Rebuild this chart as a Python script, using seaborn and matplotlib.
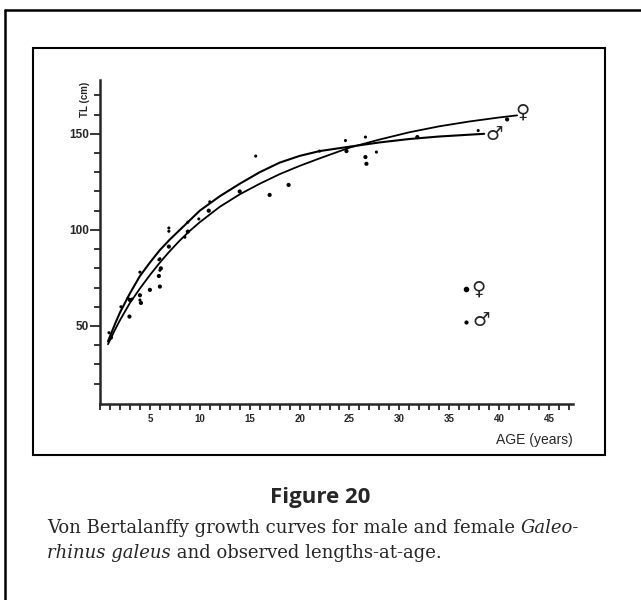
import numpy as np
import pandas as pd
import matplotlib
matplotlib.use("Agg")
import matplotlib.pyplot as plt
import seaborn as sns
from matplotlib.lines import Line2D
from matplotlib.ticker import MultipleLocator, FixedLocator

# fitted growth curves
male_age = [0.8, 1.5, 2, 3, 4, 5, 6, 7, 8, 9, 10, 12, 14, 16, 18, 20, 22, 25, 28, 31, 34, 38.5]
male_tl = [42, 51, 57, 67, 76, 83, 89.5, 95, 100, 105, 110, 117.5, 124, 130, 135, 138.5,
           141, 143.3, 145.5, 147.3, 148.6, 150]
female_age = [0.8, 1.5, 2, 3, 4, 5, 6, 7, 8, 9, 10, 12, 14, 16, 18, 20, 22, 25, 28, 31,
              34, 37, 40, 41.8]
female_tl = [40.5, 48, 53, 62, 69.5, 76.5, 83, 89, 94.5, 99.5, 104, 112, 118.5, 124, 129,
             133.3, 137.2, 142.8, 147, 150.8, 153.9, 156.4, 158.5, 159.6]

# observed lengths-at-age
obs_f_age = [1.1, 3.0, 2.95, 4.0, 4.1, 5.0, 6.1, 5.9, 6.0, 6.9, 8.8, 10.9, 14.0, 17.0,
             18.9, 24.7, 26.6, 26.7, 31.8, 40.8]
obs_f_tl = [44.0, 63.5, 54.9, 66.0, 62.0, 68.8, 80.0, 76.0, 70.5, 91.3, 99.1, 110.0, 120.0,
            118.2, 123.4, 141.0, 137.9, 134.4, 148.3, 157.5]
obs_m_age = [0.9, 2.1, 2.8, 3.2, 4.0, 4.0, 5.9, 6.0, 6.0, 6.9, 6.9, 8.5, 8.8, 9.9, 11.0,
             15.6, 22.0, 24.6, 26.6, 27.7, 37.9]
obs_m_tl = [46.5, 60.0, 64.5, 64.0, 78.0, 63.5, 84.5, 85.0, 79.0, 101.0, 99.3, 96.2, 104.0,
            105.7, 114.6, 138.4, 141.0, 146.5, 148.3, 140.5, 151.7]

x_major = [5, 10, 15, 20, 25, 30, 35, 40, 45]
y_major = [50, 100, 150]

sns.set_style("ticks")
plt.rcParams['font.family'] = ['Liberation Sans', 'DejaVu Sans']

fig = plt.figure(figsize=(6.41, 6.0), dpi=100)
ax = fig.add_axes([100 / 641, 1 - 404 / 600, 473 / 641, 324 / 600])

sns.lineplot(x=male_age, y=male_tl, ax=ax, color="black", lw=1.5, sort=False)
sns.lineplot(x=female_age, y=female_tl, ax=ax, color="black", lw=1.3, sort=False)
sns.scatterplot(x=obs_f_age, y=obs_f_tl, ax=ax, color="black", s=9, marker="o",
                edgecolor="none")
sns.scatterplot(x=obs_m_age, y=obs_m_tl, ax=ax, color="black", s=5, marker="o",
                edgecolor="none")

ax.set_xlim(0, 47.4)
ax.set_ylim(9.4, 178)
ax.xaxis.set_major_locator(FixedLocator(x_major))
ax.xaxis.set_minor_locator(MultipleLocator(1))
ax.yaxis.set_major_locator(FixedLocator(y_major))
ax.yaxis.set_minor_locator(FixedLocator(np.arange(20, 180, 10)))
ax.set_xticklabels([str(v) for v in x_major], fontsize=7, fontweight="bold")
ax.set_yticklabels([str(v) for v in y_major], fontsize=8.5, fontweight="bold")
ax.tick_params(axis="x", which="both", direction="out", length=4, width=1.3, pad=3)
ax.tick_params(axis="y", which="major", direction="out", length=7, width=1.3, pad=1)
ax.tick_params(axis="y", which="minor", direction="out", length=4, width=1.3)
sns.despine(ax=ax)
for sp in ("left", "bottom"):
    ax.spines[sp].set_linewidth(1.8)

ax.text(-0.022, 0.94, "TL (cm)", transform=ax.transAxes, rotation=90, fontsize=7,
        fontweight="bold", ha="right", va="center")
ax.text(1.0, -0.11, "AGE (years)", transform=ax.transAxes, fontsize=10,
        ha="right", va="center")

# sex symbols at curve ends and legend
sym = dict(fontsize=14, fontweight="bold", family=["DejaVu Sans"], ha="center", va="center")
ax.text(42.3, 161.5, "\u2640", **sym)
ax.text(39.5, 149.5, "\u2642", **sym)
ax.text(37.9, 69.0, "\u2640", **sym)
ax.text(38.2, 53.0, "\u2642", **sym)
ax.scatter([36.7], [69.5], s=9, color="black")
ax.scatter([36.7], [52.0], s=4, color="black")

# page frames
fig.add_artist(plt.Rectangle((33 / 641, 1 - 455 / 600), 572 / 641, 407 / 600,
                             transform=fig.transFigure, fill=False, lw=1.5, color="black"))
fig.add_artist(Line2D([5 / 641, 5 / 641], [0, 1 - 10 / 600], transform=fig.transFigure,
                      lw=1.8, color="black"))
fig.add_artist(Line2D([5 / 641, 1], [1 - 10 / 600, 1 - 10 / 600], transform=fig.transFigure,
                      lw=1.8, color="black"))

# caption
fig.text(0.5, 1 - 497 / 600, "Figure 20", ha="center", va="center", fontsize=16,
         fontweight="bold", family=["Open Sans", "DejaVu Sans"])

renderer = fig.canvas.get_renderer()
W = fig.bbox.width


def run_line(x, y, parts):
    for s, style in parts:
        t = fig.text(x, y, s, fontsize=13, style=style, family=["DejaVu Serif"],
                     ha="left", va="baseline")
        x = t.get_window_extent(renderer).x1 / W


run_line(47 / 641, 1 - 533 / 600,
         [("Von Bertalanffy growth curves for male and female ", "normal"),
          ("Galeo-", "italic")])
run_line(47 / 641, 1 - 558 / 600,
         [("rhinus galeus", "italic"), (" and observed lengths-at-age.", "normal")])

fig.savefig("out.png", dpi=100)
